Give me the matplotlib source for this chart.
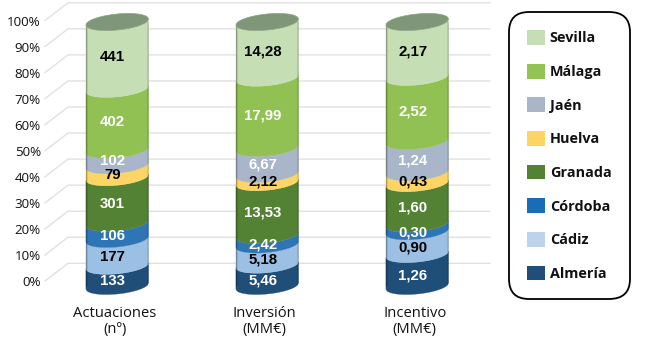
import numpy as np
import matplotlib
matplotlib.use("Agg")
import matplotlib.pyplot as plt
from matplotlib.patches import Polygon, Patch

# ---- data ----
categories = ["Actuaciones\n(nº)", "Inversión\n(MM€)", "Incentivo\n(MM€)"]
provinces = ["Almería", "Cádiz", "Córdoba", "Granada", "Huelva", "Jaén", "Málaga", "Sevilla"]
almeria = [133, 5.46, 1.26]
cadiz = [177, 5.18, 0.90]
cordoba = [106, 2.42, 0.30]
granada = [301, 13.53, 1.60]
huelva = [79, 2.12, 0.43]
jaen = [102, 6.67, 1.24]
malaga = [402, 17.99, 2.52]
sevilla = [441, 14.28, 2.17]
label_actuaciones = ["133", "177", "106", "301", "79", "102", "402", "441"]
label_inversion = ["5,46", "5,18", "2,42", "13,53", "2,12", "6,67", "17,99", "14,28"]
label_incentivo = ["1,26", "0,90", "0,30", "1,60", "0,43", "1,24", "2,52", "2,17"]
pct_ticks = list(range(0, 101, 10))

# ---- style ----
body_colors = ["#1f4e79", "#9bc0e4", "#2e75b6", "#548235", "#fdd565", "#a9b5c8", "#90c152", "#c5deb3"]
legend_colors = ["#1f4e79", "#bdd3ea", "#1a6db5", "#548235", "#fdd565", "#a9b5c8", "#92c353", "#c5deb3"]
label_colors = ["white", "black", "white", "white", "black", "white", "white", "black"]
top_color = "#7f9678"
grid_color = "#e1e1e1"
W, H = 652, 357
PLOT_L, PLOT_R = 45, 490
CYL_Y0, CYL_Y100 = 286, 22
FRONT_Y0, FRONT_Y100 = 281, 20.5
CENTER0, SPACING = 117.2, 150.0
HALF_W_PX, SAG_PX, TILT_PX = 31.3, 8.0, 3.0
SANS = ["Open Sans", "DejaVu Sans"]


def rect(y_bottom, y_top):
    return [PLOT_L / W, 1 - y_bottom / H, (PLOT_R - PLOT_L) / W, (y_bottom - y_top) / H]


fig = plt.figure(figsize=(W / 100, H / 100), dpi=100, facecolor="white")

# wall axes: gridlines and percent labels
wall = fig.add_axes(rect(FRONT_Y0, FRONT_Y100), facecolor="none", zorder=1)
wall.set_xlim(PLOT_L, PLOT_R)
wall.set_ylim(0, 100)
depth_pct = 17.7 / ((FRONT_Y0 - FRONT_Y100) / 100)
for p in pct_ticks:
    wall.plot([PLOT_L, 68, PLOT_R], [p, p + depth_pct, p + depth_pct], color=grid_color,
              lw=1.0, clip_on=False, solid_joinstyle="miter")
wall.set_yticks(pct_ticks)
wall.set_yticklabels([f"{p}%" for p in pct_ticks], fontsize=9.6, family=SANS, color="#111111")
wall.tick_params(axis="y", length=0, pad=3)
wall.set_xticks([])
for s in wall.spines.values():
    s.set_visible(False)

# cylinder axes
ax = fig.add_axes(rect(CYL_Y0, CYL_Y100), facecolor="none", zorder=2)
xmin = (PLOT_L - CENTER0) / SPACING
xmax = (PLOT_R - CENTER0) / SPACING
ax.set_xlim(xmin, xmax)
ax.set_ylim(0, 100)
for s in ax.spines.values():
    s.set_visible(False)
ax.set_yticks([])

px_pct = 100 / (CYL_Y0 - CYL_Y100)
half = HALF_W_PX / SPACING
B = SAG_PX * px_pct
T = TILT_PX * px_pct
t = np.linspace(-1, 1, 81)
front = T * t - B * np.sqrt(1 - t ** 2)
back = T * t + B * np.sqrt(1 - t ** 2)

series = np.array([almeria, cadiz, cordoba, granada, huelva, jaen, malaga, sevilla], dtype=float)
shares = series / series.sum(axis=0) * 100
cums = np.vstack([np.zeros(3), np.cumsum(shares, axis=0)])
labels = [label_actuaciones, label_inversion, label_incentivo]

shade = np.zeros((2, 200, 4))
u = np.linspace(-1, 1, 200)
shade[:, :, 3] = np.clip((np.abs(u) - 0.93) / 0.07, 0, 1) ** 1.5 * 0.38

for c in range(len(categories)):
    xs = c + half * t
    for i in range(len(provinces)):
        lo, hi = cums[i, c], cums[i + 1, c]
        verts = np.vstack([np.column_stack([xs, lo + front]),
                           np.column_stack([xs[::-1], hi + front[::-1]])])
        ax.add_patch(Polygon(verts, closed=True, fc=body_colors[i], ec=body_colors[i],
                             lw=0.2, clip_on=False, zorder=3))
    # edge shading of the cylinder body
    outline = np.vstack([np.column_stack([xs, front]),
                         np.column_stack([xs[::-1], 100 + back[::-1]])])
    clip = Polygon(outline, closed=True, transform=ax.transData)
    im = ax.imshow(shade, extent=[c - half, c + half, -5, 105], aspect="auto",
                   zorder=4, interpolation="bilinear")
    im.set_clip_path(clip)
    # top cap
    cap = np.vstack([np.column_stack([xs, 100 + front]),
                     np.column_stack([xs[::-1], 100 + back[::-1]])])
    ax.add_patch(Polygon(cap, closed=True, fc=top_color, ec="#8da386", lw=0.5,
                         clip_on=False, zorder=5))
    # value labels
    for i in range(len(provinces)):
        mid = (cums[i, c] + cums[i + 1, c]) / 2
        drop_px = 5.5 - 0.04 * mid
        ax.annotate(labels[c][i], xy=(c, mid), xytext=(-4.5 * 0.72, -drop_px * 0.72),
                    textcoords="offset points", ha="center", va="center",
                    fontsize=10.8, fontweight="bold", family="Liberation Sans",
                    color=label_colors[i], zorder=6, annotation_clip=False)

ax.set_xlim(xmin, xmax)
ax.set_ylim(0, 100)
ax.set_xticks(np.arange(len(categories)) - 2.5 / SPACING)
ax.set_xticklabels(categories, fontsize=10.6, family=SANS, color="#111111", linespacing=1.05)
ax.tick_params(axis="x", length=0, pad=14.5)

# legend
handles = [Patch(fc=legend_colors[i], ec="none", label=provinces[i])
           for i in range(len(provinces) - 1, -1, -1)]
leg = fig.legend(handles=handles, loc="upper left",
                 bbox_to_anchor=(509 / W, 1 - 12 / H), bbox_transform=fig.transFigure,
                 prop={"family": SANS, "weight": "bold", "size": 10.4},
                 labelcolor="#111111", frameon=True, fancybox=True, edgecolor="black",
                 facecolor="white", framealpha=1, handlelength=1.2, handleheight=1.2,
                 handletextpad=0.36, labelspacing=1.27, borderpad=1.26, borderaxespad=0)
frame = leg.get_frame()
frame.set_linewidth(1.3)
frame.set_boxstyle("round", pad=0, rounding_size=1.4)
leg.set_zorder(5)

fig.savefig("out.png", dpi=100)
